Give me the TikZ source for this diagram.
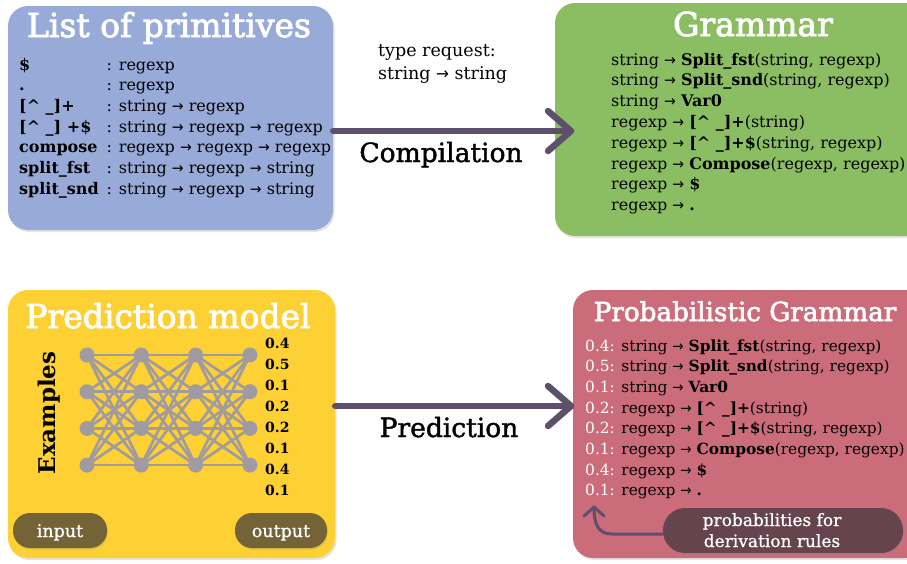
\documentclass[tikz,border=0pt]{standalone}
\usepackage{fontspec}
\setmainfont{DejaVu Serif}
\newfontfamily\arrfont{DejaVu Sans}
\newfontfamily\titlefont[FakeBold=2.5]{DejaVu Serif}
\newfontfamily\labfont[FakeBold=1.5]{DejaVu Serif}
\newfontfamily\medfont[FakeBold=0.8]{DejaVu Serif}
\usetikzlibrary{shadows,calc}
\newcommand\ra{{\arrfont\scalebox{0.88}[0.95]{→}}}
\newcommand\crt{\textasciicircum}
\definecolor{blueC}{HTML}{98AAD8}
\definecolor{greenC}{HTML}{8BBE62}
\definecolor{yellowC}{HTML}{FDD033}
\definecolor{pinkC}{HTML}{CB6C7A}
\definecolor{arrowC}{HTML}{5E4F6B}
\definecolor{pillY}{HTML}{736337}
\definecolor{pillP}{HTML}{66444E}
\definecolor{nnC}{HTML}{A09BA1}
\begin{document}
\begin{tikzpicture}[x=1pt,y=-1pt,
  box/.style={rounded corners=20pt, inner sep=0pt,
    drop shadow={opacity=0.22,shadow xshift=1.5pt,shadow yshift=-2pt}},
  title/.style={text=white, font=\titlefont\fontsize{33}{36}\selectfont, inner sep=0pt},
  body/.style={font=\fontsize{16}{20}\selectfont, inner sep=0pt},
  pbody/.style={font=\fontsize{15.4}{19}\selectfont, inner sep=0pt},
  lab/.style={font=\labfont\fontsize{26.5}{30}\selectfont, inner sep=0pt},
  bigarr/.style={draw=arrowC, line width=6.5pt, line cap=round, line join=round},
  smallarr/.style={draw=arrowC, line width=3pt, line cap=round, line join=round},
  nnnode/.style={circle, fill=nnC, minimum size=15pt, inner sep=0pt},
  nnedge/.style={draw=nnC, line width=2.7pt},
  pill/.style={rounded corners=17pt, inner sep=0pt, text=white,
    font=\medfont\fontsize{17.5}{20}\selectfont, text height=13pt, text depth=0pt,
    drop shadow={opacity=0.22,shadow xshift=1pt,shadow yshift=-1.5pt}},
  pilltext/.style={anchor=base, inner sep=0pt, text=white, font=\medfont\fontsize{17}{20}\selectfont}]
\useasboundingbox (0,0) rectangle (907,563);
\clip (0,0) rectangle (907,563);
\fill[white] (0,0) rectangle (907,563);

% boxes
\node[box, fill=blueC, minimum width=325pt, minimum height=224pt] (blue) at (170.5,118) {};
\node[box, fill=greenC, minimum width=370pt, minimum height=233pt] (green) at (740,119.5) {};
\node[box, fill=yellowC, minimum width=327pt, minimum height=268pt] (yellow) at (171.5,424) {};
\node[box, fill=pinkC, minimum width=352pt, minimum height=268pt] (pink) at (749,424) {};

% titles
\node[title, anchor=base] (t1) at (169,37) {List of primitives};
\node[title, anchor=base] (t2) at (753,36) {Grammar};
\node[title, anchor=base] (t3) at (168,328) {Prediction model};
\node[title, anchor=base, font=\titlefont\fontsize{26.2}{30}\selectfont] (t4) at (745,321) {Probabilistic Grammar};

% primitives
\foreach \a/\b [count=\i] in {
  {\$}/{regexp},
  {.}/{regexp},
  {[\crt\ \_]+}/{string \ra{} regexp},
  {[\crt\ \_] +\$}/{string \ra{} regexp \ra{} regexp},
  {compose}/{regexp \ra{} regexp \ra{} regexp},
  {split\_fst}/{string \ra{} regexp \ra{} string},
  {split\_snd}/{string \ra{} regexp \ra{} string}} {
  \node[body, anchor=base west] (pa\i) at (19,{70+20.7*(\i-1)}) {\textbf{\a}};
  \node[body, anchor=base west] (pb\i) at (106.5,{70+20.7*(\i-1)}) {: \b};
}

% grammar
\foreach \t [count=\i] in {
  {string \ra{} \textbf{Split\_fst}(string, regexp)},
  {string \ra{} \textbf{Split\_snd}(string, regexp)},
  {string \ra{} \textbf{Var0}},
  {regexp \ra{} \textbf{[\crt\ \_]+}(string)},
  {regexp \ra{} \textbf{[\crt\ \_]+\$}(string, regexp)},
  {regexp \ra{} \textbf{Compose}(regexp, regexp)},
  {regexp \ra{} \textbf{\$}},
  {regexp \ra{} \textbf{.}}} {
  \node[body, anchor=base west] (g\i) at (611,{65+20.8*(\i-1)}) {\t};
}

% probabilistic grammar
\foreach \p/\t [count=\i] in {
  0.4/{string \ra{} \textbf{Split\_fst}(string, regexp)},
  0.5/{string \ra{} \textbf{Split\_snd}(string, regexp)},
  0.1/{string \ra{} \textbf{Var0}},
  0.2/{regexp \ra{} \textbf{[\crt\ \_]+}(string)},
  0.2/{regexp \ra{} \textbf{[\crt\ \_]+\$}(string, regexp)},
  0.1/{regexp \ra{} \textbf{Compose}(regexp, regexp)},
  0.4/{regexp \ra{} \textbf{\$}},
  0.1/{regexp \ra{} \textbf{.}}} {
  \node[pbody, anchor=base west] (q\i) at (585,{351+20.7*(\i-1)}) {\textcolor{white}{\p:} \t};
}

% type request
\node[anchor=base west, inner sep=0pt, font=\fontsize{17.5}{21}\selectfont] (tr1) at (378,56) {type request:};
\node[anchor=base west, inner sep=0pt, font=\fontsize{17.5}{21}\selectfont] (tr2) at (378,79) {string \ra{} string};

% big arrows
\coordinate (a1) at (571,131);
\draw[bigarr] (blue.east |- a1) -- (a1);
\draw[bigarr] ($(a1)+(-23,-20)$) -- (a1) -- ($(a1)+(-23,20)$);
\node[lab, anchor=base] (comp) at (441,162) {Compilation};

\coordinate (a2) at (571,406);
\draw[bigarr] (yellow.east |- a2) -- (a2);
\draw[bigarr] ($(a2)+(-23,-20)$) -- (a2) -- ($(a2)+(-23,20)$);
\node[lab, anchor=base] (pred) at (449,437) {Prediction};

% neural net
\foreach \c in {0,1,2,3} \foreach \r in {0,1,2,3}
  \coordinate (n\c\r) at ({87+54.3*\c},{355+36.7*\r});
\foreach \c/\d in {0/1,1/2,2/3} \foreach \r in {0,1,2,3} \foreach \s in {0,1,2,3}
  \draw[nnedge] (n\c\r) -- (n\d\s);
\foreach \c in {0,1,2,3} \foreach \r in {0,1,2,3}
  \node[nnnode] (m\c\r) at (n\c\r) {};

\node[rotate=90, anchor=base, inner sep=0pt, font=\bfseries\fontsize{23}{26}\selectfont] (ex) at (55,413) {Examples};

\foreach \v [count=\i] in {0.4,0.5,0.1,0.2,0.2,0.1,0.4,0.1}
  \node[anchor=base west, inner sep=0pt, font=\bfseries\fontsize{14}{17}\selectfont] (o\i) at (265,{348+21*(\i-1)}) {\v};

% pills
\node[pill, fill=pillY, minimum width=94pt, minimum height=35pt] (in) at (60,530.5) {input};
\node[pill, fill=pillY, minimum width=92pt, minimum height=35pt] (out) at (281,530.5) {output};
\node[pill, rounded corners=22pt, fill=pillP, minimum width=240pt, minimum height=45pt] (pp) at (783,530.5) {};
\node[pilltext] (pp1) at (772,526) {probabilities for};
\node[pilltext] (pp2) at (772,547) {derivation rules};

% small arrow
\coordinate (ctip) at (594,507);
\draw[smallarr] ([yshift=-3.5pt]pp.west) -- (612,534) .. controls (598,534) and (594,524) .. (ctip);
\draw[smallarr] ($(ctip)+(-10,9)$) -- (ctip) -- ($(ctip)+(10,9)$);
\end{tikzpicture}
\end{document}
